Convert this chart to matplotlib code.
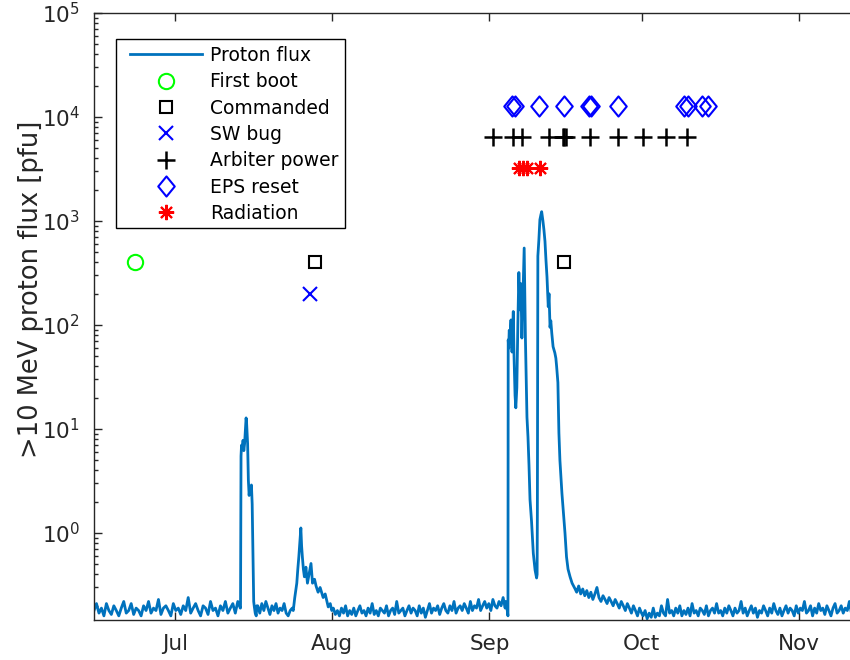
import numpy as np
import pandas as pd
import matplotlib
matplotlib.use("Agg")
import matplotlib.pyplot as plt
import matplotlib.dates as mdates
from matplotlib.path import Path
from matplotlib.patches import Rectangle

# time is in days since 2017-06-15, flux in pfu
t0 = pd.Timestamp("2017-06-15")

# quiet background before the July event
quiet_a = [0.18, 0.21, 0.17, 0.19, 0.16, 0.21, 0.18, 0.165, 0.2, 0.18, 0.16, 0.19, 0.22, 0.17, 0.18,
           0.21, 0.165, 0.19, 0.18, 0.16, 0.2, 0.18, 0.22, 0.17, 0.19, 0.18, 0.23, 0.165, 0.19, 0.2,
           0.18, 0.16, 0.21, 0.18, 0.19, 0.165, 0.2, 0.18, 0.24, 0.17, 0.19, 0.21, 0.18, 0.16, 0.2,
           0.19, 0.165, 0.22, 0.18, 0.19, 0.16, 0.2, 0.18, 0.22, 0.17, 0.19, 0.21, 0.17, 0.22, 0.19]
quiet_a_span = (0.0, 28.85)

jul_t = [28.9, 29.0, 29.1, 29.25, 29.4, 29.55, 29.7, 29.85, 30.0, 30.1, 30.2, 30.3, 30.45,
         30.6, 30.75, 30.9, 31.05, 31.2, 31.3, 31.4, 31.5, 31.6, 31.8, 32.0, 32.1]
jul_v = [0.19, 5.5, 7.0, 6.5, 7.8, 6.2, 7.2, 9.5, 12.8, 11.5, 9.0, 7.2, 3.2,
         2.3, 2.8, 2.4, 2.9, 1.9, 0.9, 0.38, 0.22, 0.2, 0.17, 0.16, 0.2]

quiet_b = [0.2, 0.17, 0.21, 0.18, 0.22, 0.19, 0.165, 0.2, 0.18, 0.21, 0.17, 0.19, 0.18, 0.21,
           0.17, 0.16, 0.18, 0.19]
quiet_b_span = (32.3, 39.1)

bump_t = [39.3, 39.6, 40.0, 40.2, 40.4, 40.6, 40.8, 40.95, 41.1, 41.3, 41.5, 41.8, 42.1, 42.4,
          42.8, 43.1, 43.5, 43.8, 44.2, 44.6, 45.2, 45.6, 46.2, 46.6, 46.9]
bump_v = [0.18, 0.24, 0.33, 0.45, 0.59, 0.8, 1.12, 0.75, 0.59, 0.45, 0.38, 0.47, 0.33, 0.4,
          0.51, 0.33, 0.36, 0.31, 0.27, 0.3, 0.24, 0.26, 0.195, 0.21, 0.18]

quiet_c = [0.19, 0.165, 0.18, 0.16, 0.19, 0.17, 0.2, 0.16, 0.18, 0.165, 0.19, 0.16, 0.18, 0.2,
           0.17, 0.18, 0.16, 0.19, 0.17, 0.21, 0.165, 0.18, 0.16, 0.19, 0.18, 0.17, 0.2, 0.16,
           0.18, 0.19, 0.165, 0.22, 0.17, 0.18, 0.19, 0.16, 0.18, 0.2, 0.17, 0.19, 0.18, 0.16,
           0.2, 0.17, 0.19, 0.155, 0.18, 0.21, 0.17, 0.19, 0.18, 0.2, 0.165, 0.19, 0.21, 0.18,
           0.17, 0.2, 0.18, 0.22, 0.17, 0.19, 0.2, 0.18, 0.21, 0.19, 0.17, 0.22, 0.18, 0.2,
           0.19, 0.23, 0.18, 0.2, 0.22, 0.19, 0.21, 0.18, 0.23, 0.2, 0.19, 0.22, 0.2, 0.24, 0.19]
quiet_c_span = (47.2, 81.1)

sep_t = [81.2, 81.45, 81.65, 81.7, 81.8, 81.9, 82.05, 82.25, 82.45, 82.6, 82.7, 82.85, 83.05,
         83.2, 83.4, 83.6, 83.8, 84.0, 84.2, 84.4, 84.6, 84.85, 85.0, 85.1, 85.25, 85.4, 85.6,
         85.8, 86.0, 86.3, 86.65, 87.0, 87.3, 87.4, 87.45, 87.55, 87.75, 87.95, 88.15, 88.3,
         88.55, 88.75, 88.95, 89.15, 89.35, 89.6, 89.75, 89.95, 90.1, 90.3, 90.55, 90.9, 91.1,
         91.25, 91.5, 91.7, 91.9, 92.1, 92.3, 92.55, 92.9, 93.2, 93.5, 93.9, 94.3, 94.6, 94.9]
sep_v = [0.22, 0.19, 0.16, 72, 60, 89, 80, 112, 55, 95, 135, 50, 21,
         16, 25, 100, 320, 140, 250, 75, 175, 550, 150, 72, 30, 13, 8.4,
         4.5, 2.1, 1.3, 0.64, 0.44, 0.37, 0.4, 1.5, 460, 660, 1030, 1150, 1230,
         1000, 820, 640, 420, 290, 150, 200, 95, 110, 83, 62, 54, 48,
         40, 28, 9.2, 5.0, 3.4, 2.4, 1.66, 1.0, 0.59, 0.45, 0.38, 0.33, 0.31, 0.29]

tail = [0.27, 0.31, 0.26, 0.29, 0.25, 0.28, 0.24, 0.27, 0.23, 0.26, 0.3, 0.24, 0.22, 0.25,
        0.23, 0.21, 0.24, 0.22, 0.2, 0.23, 0.21, 0.19, 0.22, 0.2, 0.18, 0.21, 0.19, 0.17, 0.2,
        0.18, 0.16, 0.19, 0.17]
tail_span = (95.2, 108.0)

quiet_d = [0.16, 0.18, 0.15, 0.17, 0.155, 0.19, 0.155, 0.17, 0.16, 0.2, 0.17, 0.16, 0.23, 0.17,
           0.18, 0.16, 0.19, 0.17, 0.2, 0.16, 0.18, 0.165, 0.19, 0.16, 0.21, 0.17, 0.18, 0.16,
           0.19, 0.18, 0.165, 0.2, 0.16, 0.18, 0.19, 0.17, 0.21, 0.17, 0.18, 0.16, 0.19, 0.17,
           0.2, 0.18, 0.16, 0.19, 0.17, 0.18, 0.22, 0.17, 0.19, 0.16, 0.18, 0.2, 0.17, 0.19,
           0.155, 0.18, 0.17, 0.2, 0.18, 0.16, 0.19, 0.17, 0.21, 0.18, 0.165, 0.19, 0.16, 0.18,
           0.2, 0.17, 0.19, 0.18, 0.16, 0.2, 0.17, 0.19, 0.18, 0.22, 0.17, 0.18, 0.2, 0.16,
           0.19, 0.17, 0.21, 0.18, 0.19, 0.165, 0.2, 0.18, 0.16, 0.19, 0.21, 0.17, 0.18, 0.2,
           0.17, 0.19, 0.18, 0.22, 0.17, 0.2, 0.18, 0.19]
quiet_d_span = (108.3, 150.6)

# anomaly events (days since 2017-06-15)
first_boot_t, first_boot_v = [8.1], [400]
commanded_t, commanded_v = [43.6, 92.7], [400, 400]
sw_bug_t, sw_bug_v = [42.6], [200]
arbiter_t = [78.7, 82.6, 84.4, 89.7, 92.5, 92.8, 93.1, 97.8, 103.4, 108.3, 112.8, 116.96]
arbiter_v = [6400] * len(arbiter_t)
eps_t = [82.4, 83.0, 87.8, 92.7, 97.6, 98.0, 103.4, 116.4, 117.2, 120.0, 121.1]
eps_v = [12800] * len(eps_t)
radiation_t = [83.8, 84.6, 85.4, 88.0]
radiation_v = [3200] * len(radiation_t)


def seg(vals, span):
    return list(np.linspace(span[0], span[1], len(vals)))


flux_t = (seg(quiet_a, quiet_a_span) + jul_t + seg(quiet_b, quiet_b_span) + bump_t
          + seg(quiet_c, quiet_c_span) + sep_t + seg(tail, tail_span) + seg(quiet_d, quiet_d_span))
flux_v = quiet_a + jul_v + quiet_b + bump_v + quiet_c + sep_v + tail + quiet_d


def to_dates(days):
    return t0 + pd.to_timedelta(np.asarray(days, dtype=float), unit="D")


grey = (0.15, 0.15, 0.15)
plt.rcParams["font.family"] = "DejaVu Sans"

W, H = 850, 660
fig = plt.figure(figsize=(8.5, 6.6), dpi=100)
ax = fig.add_axes([94 / W, 40 / H, 762 / W, 607 / H])

ax.plot(to_dates(flux_t), flux_v, color="#0072BD", lw=2.0, label="Proton flux")
ax.plot(to_dates(first_boot_t), first_boot_v, ls="none", marker="o", ms=11, mfc="none",
        mec="#00ff00", mew=1.5, label="First boot")
ax.plot(to_dates(commanded_t), commanded_v, ls="none", marker="s", ms=8, mfc="none",
        mec="k", mew=1.5, label="Commanded")
ax.plot(to_dates(sw_bug_t), sw_bug_v, ls="none", marker="x", ms=10, mec="b", mew=1.5,
        label="SW bug")
ax.plot(to_dates(arbiter_t), arbiter_v, ls="none", marker="+", ms=13, mec="k", mew=1.8,
        label="Arbiter power")
diamond = Path([(0, 1), (0.82, 0), (0, -1), (-0.82, 0), (0, 1)],
               [Path.MOVETO, Path.LINETO, Path.LINETO, Path.LINETO, Path.CLOSEPOLY])
ax.plot(to_dates(eps_t), eps_v, ls="none", marker=diamond, ms=14.5, mfc="none", mec="b",
        mew=1.5, label="EPS reset")
ax.plot(to_dates(radiation_t), radiation_v, ls="none", marker=(8, 2, 0), ms=11, mec="r",
        mew=1.5, label="Radiation")

ax.set_yscale("log")
ax.set_ylim(0.146, 1e5)
ax.set_xlim(to_dates([0.0])[0], to_dates([150.3])[0])
ax.set_yticks([1e0, 1e1, 1e2, 1e3, 1e4, 1e5])
ax.xaxis.set_major_locator(mdates.MonthLocator())
ax.xaxis.set_major_formatter(mdates.DateFormatter("%b"))

ax.tick_params(which="both", direction="in", top=True, right=False, colors=grey,
               labelsize=15.5, width=1)
ax.tick_params(which="major", length=6, pad=10)
ax.tick_params(which="minor", length=3)
for s in ax.spines.values():
    s.set_color(grey)
    s.set_linewidth(1)

ax.set_ylabel(">10 MeV proton flux [pfu]", fontsize=18.5, color=grey)
ax.yaxis.set_label_coords(-0.066, 0.545)

# legend without its own frame, box drawn separately inside the axes
leg = ax.legend(loc="upper left", bbox_to_anchor=(130 / W, 1 - 46 / H),
                bbox_transform=fig.transFigure, borderaxespad=0, borderpad=0,
                fontsize=13.5, handlelength=3.84, handletextpad=0.42, labelspacing=0.39,
                frameon=False)
leg.set_zorder(6)
box = Rectangle((116 / W, 1 - 228 / H), 229 / W, 189 / H, transform=fig.transFigure,
                fc="white", ec="k", lw=1, zorder=5, clip_on=False)
ax.add_artist(box)

fig.savefig("out.png", dpi=100)
